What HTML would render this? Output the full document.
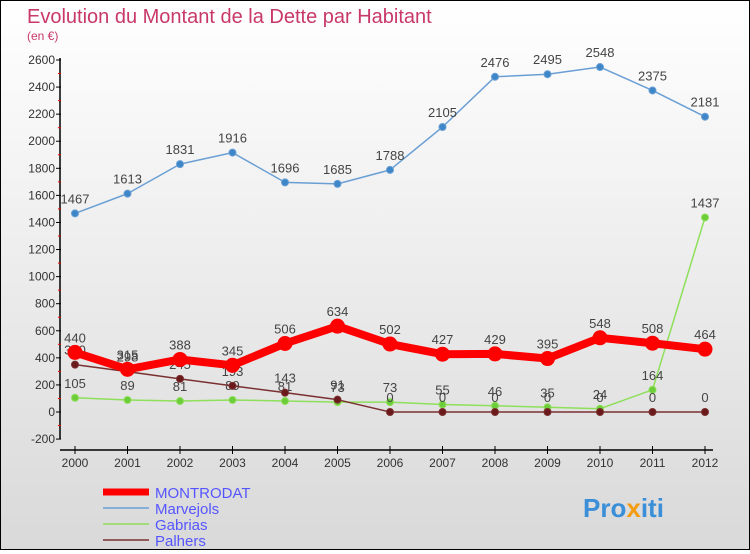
<!DOCTYPE html>
<html><head><meta charset="utf-8"><style>
body{margin:0;width:750px;height:550px;overflow:hidden;font-family:"Liberation Sans",sans-serif}
#wrap{position:relative;width:748px;height:548px;border:1px solid #000;background:linear-gradient(#fff,#d9d9d9)}
</style></head><body>
<div id="wrap">
<svg id="chart" width="748" height="548">
<text x="26" y="22" font-size="20" fill="#c8386a">Evolution du Montant de la Dette par Habitant</text>
<text x="26" y="39" font-size="12" fill="#c8386a">(en €)</text>
<g id="axes"></g><g id="series"></g>
<g>
<line x1="102" y1="491" x2="148" y2="491" stroke="#f00" stroke-width="7"/>
<text x="154" y="497" font-size="15" fill="#55f">MONTRODAT</text>
<line x1="102" y1="507" x2="148" y2="507" stroke="#6a9fd4" stroke-width="1.5"/>
<text x="154" y="513" font-size="15" fill="#55f">Marvejols</text>
<line x1="102" y1="523" x2="148" y2="523" stroke="#8ee05a" stroke-width="1.5"/>
<text x="154" y="529" font-size="15" fill="#55f">Gabrias</text>
<line x1="102" y1="539" x2="148" y2="539" stroke="#7a3030" stroke-width="1.5"/>
<text x="154" y="545" font-size="15" fill="#55f">Palhers</text>
</g>
<text x="582" y="516" font-size="26" font-weight="bold" fill="#3a8fd8">Pro<tspan fill="#f39c12">x</tspan>iti</text>
</svg></div>
<script>
const years=[2000,2001,2002,2003,2004,2005,2006,2007,2008,2009,2010,2011,2012];
const montrodat=[440,315,388,345,506,634,502,427,429,395,548,508,464];
const marvejols=[1467,1613,1831,1916,1696,1685,1788,2105,2476,2495,2548,2375,2181];
const gabrias=[105,89,81,89,81,73,73,55,46,35,24,164,1437];
const palhers=[350,298,245,193,143,91,0,0,0,0,0,0,0];
const yTicks=[-200,0,200,400,600,800,1000,1200,1400,1600,1800,2000,2200,2400,2600];
const NS='http://www.w3.org/2000/svg';
const xS=i=>74+i*52.5;
const yS=v=>411-v*(352/2600);
function mk(tag,attrs,parent,txt){const e=document.createElementNS(NS,tag);for(const k in attrs)e.setAttribute(k,attrs[k]);if(txt!==undefined)e.textContent=txt;parent.appendChild(e);return e;}
const ax=document.getElementById('axes');
let a=mk('line',{x1:59,y1:yS(2600)-2,x2:59,y2:yS(-200),stroke:'#000','stroke-width':1.5},ax);


a=mk('line',{x1:59,y1:449,x2:712,y2:449,stroke:'#000','stroke-width':1.5},ax);


yTicks.forEach((t,i)=>{
  mk('line',{x1:55,y1:yS(t),x2:60,y2:yS(t),stroke:'#000'},ax);
  if(i<yTicks.length-1)mk('line',{x1:57,y1:yS(t+100),x2:60,y2:yS(t+100),stroke:'#e00'},ax);
  const l=mk('text',{x:54,y:yS(t)+4,'font-size':12,fill:'#333','text-anchor':'end'},ax,t);
  
  
});
years.forEach((y,i)=>{
  mk('line',{x1:xS(i),y1:445,x2:xS(i),y2:453,stroke:'#000'},ax);
  const l=mk('text',{x:xS(i),y:466,'font-size':12,fill:'#333','text-anchor':'middle'},ax,y);
  
  
});
const sg=document.getElementById('series');
function series(name,vals,color,w,r,dot){
  const g=mk('g',{},sg);
  
  
  mk('polyline',{points:vals.map((v,i)=>xS(i)+','+yS(v)).join(' '),fill:'none',stroke:color,'stroke-width':w,'stroke-linejoin':'round'},g);
  vals.forEach((v,i)=>{
    const c=mk('circle',{cx:xS(i),cy:yS(v),r:r,fill:dot,stroke:color,'stroke-width':1},g);
    
    
    const t=mk('text',{x:xS(i),y:yS(v)-10,'font-size':13,fill:'#444','text-anchor':'middle'},g,v);
    
    
  });
}
series('marvejols',marvejols,'#6a9fd4',1.5,3.5,'#3d86c8');
series('gabrias',gabrias,'#8ee05a',1.5,3.5,'#6ccc3a');
series('palhers',palhers,'#7a3030',1.5,3.5,'#6a1a1a');
series('montrodat',montrodat,'#f00',8,7,'#f00');
</script>
</body></html>
